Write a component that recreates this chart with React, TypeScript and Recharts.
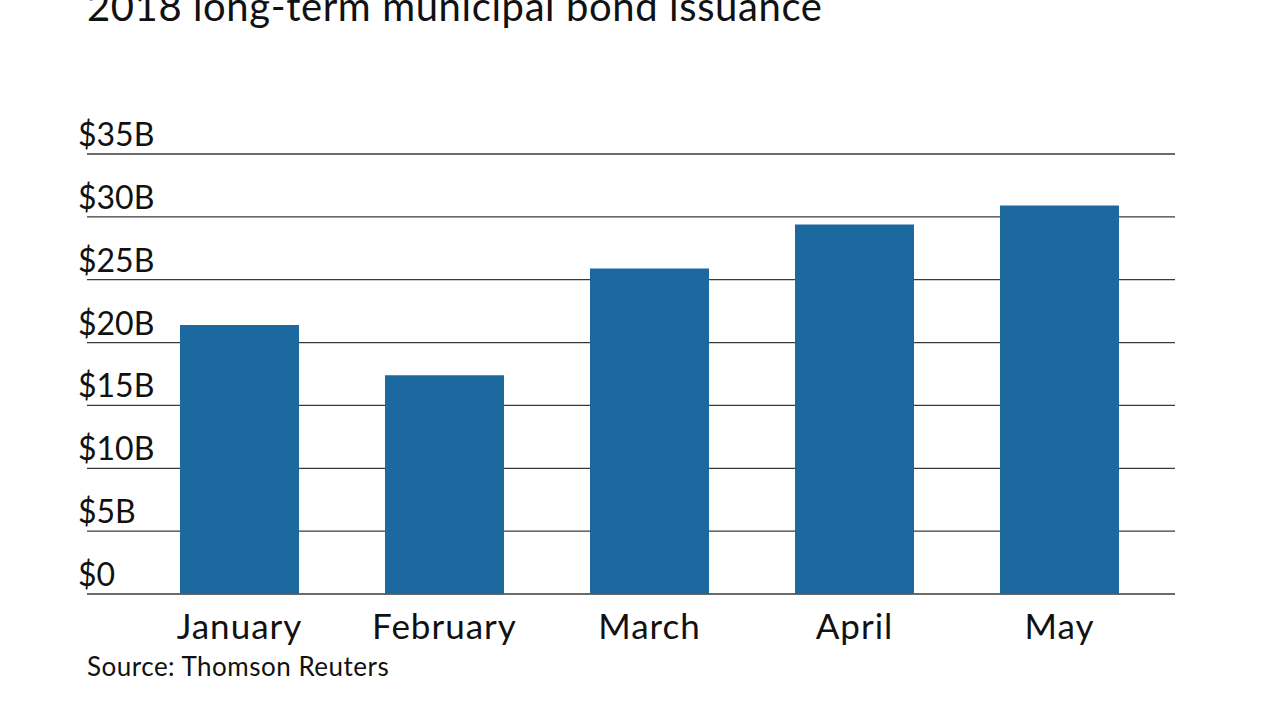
import { BarChart, Bar, XAxis, YAxis, CartesianGrid } from 'recharts'

// 2018 long-term municipal bond issuance, in billions of dollars
const months = ['January', 'February', 'March', 'April', 'May']
const issuance = [21.4, 17.4, 25.9, 29.4, 30.9]
const yTicks = [0, 5, 10, 15, 20, 25, 30, 35]

const data = months.map((month, i) => ({ month, value: issuance[i] }))

const FONT = 'Lato, "Noto Sans", sans-serif'

const fmt = (v: number) => (v === 0 ? '$0' : `$${v}B`)

const YTick = ({ y, payload }: any) => (
  <text x={78} y={y - 8} fill="#111" fontSize={32} fontFamily={FONT} textAnchor="start">
    {fmt(payload.value)}
  </text>
)

const XTick = ({ x, y, payload }: any) => (
  <text x={x} y={y + 37} fill="#111" fontSize={35} letterSpacing={1} fontFamily={FONT} textAnchor="middle">
    {payload.value}
  </text>
)

export default function App() {
  return (
    <div style={{ position: 'absolute', left: 0, top: 0, width: 1280, height: 720, background: '#fff', overflow: 'hidden' }}>
      <div
        style={{
          position: 'absolute',
          left: 87,
          top: -19,
          fontFamily: FONT,
          fontSize: 40,
          letterSpacing: 0.6,
          lineHeight: '50px',
          color: '#111',
          whiteSpace: 'nowrap',
        }}
      >
        2018 long-term municipal bond issuance
      </div>
      <BarChart
        width={1280}
        height={720}
        data={data}
        margin={{ top: 154, right: 105, bottom: 125, left: 86 }}
        barCategoryGap={43}
      >
        <CartesianGrid vertical={false} stroke="#3a3a3a" strokeWidth={1.3} />
        <XAxis
          dataKey="month"
          height={1}
          axisLine={false}
          tickLine={false}
          padding={{ left: 50, right: 13 }}
          tick={<XTick />}
          interval={0}
        />
        <YAxis
          width={1}
          domain={[0, 35]}
          ticks={yTicks}
          axisLine={false}
          tickLine={false}
          tick={<YTick />}
          interval={0}
        />
        <Bar dataKey="value" fill="#1c69a0" isAnimationActive={false} />
      </BarChart>
      <div
        style={{
          position: 'absolute',
          left: 87,
          top: 650,
          fontFamily: FONT,
          fontSize: 26,
          letterSpacing: 0.5,
          color: '#111',
          whiteSpace: 'nowrap',
        }}
      >
        Source: Thomson Reuters
      </div>
    </div>
  )
}
